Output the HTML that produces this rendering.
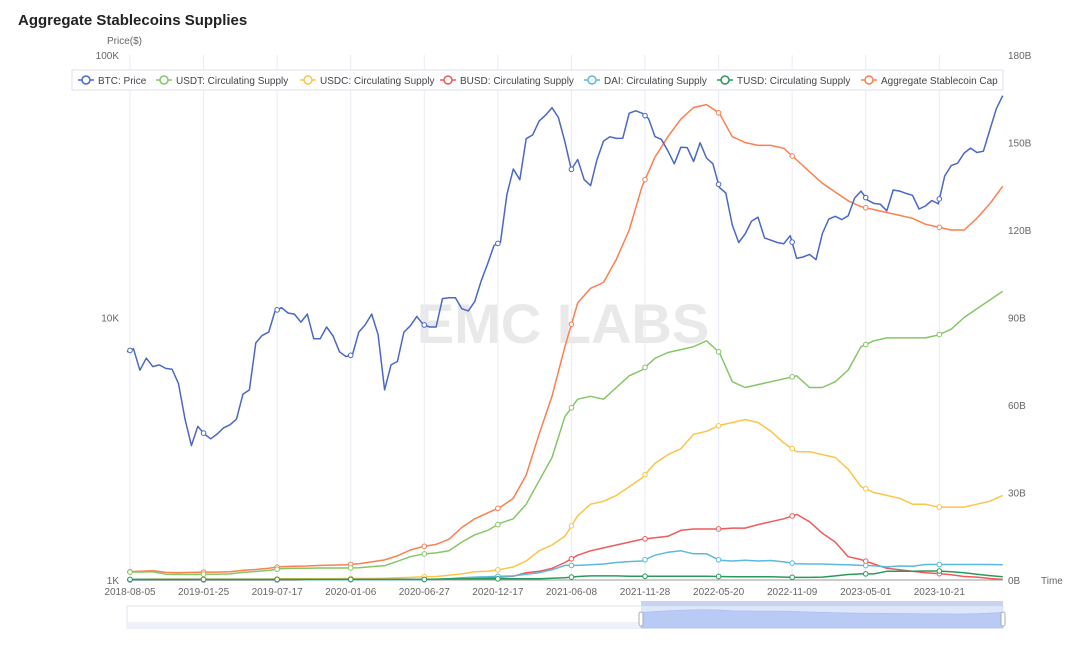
<!DOCTYPE html>
<html><head><meta charset="utf-8"><style>
html,body{margin:0;padding:0;background:#fff;width:1080px;height:645px;overflow:hidden;font-family:"Liberation Sans",sans-serif;}
</style></head><body>
<svg id="c" width="1080" height="645" xmlns="http://www.w3.org/2000/svg" font-family="Liberation Sans, sans-serif">
<text x="18" y="25" font-size="15" font-weight="bold" fill="#222">Aggregate Stablecoins Supplies</text>
<text x="107" y="44" font-size="10" fill="#666">Price($)</text>
<text x="563" y="343" font-size="56" font-weight="bold" fill="#e9e9e9" text-anchor="middle">EMC LABS</text>
<g id="grid"></g><g id="axes"></g><g id="series"></g>
<g id="legend"></g>
<g>
<rect x="127" y="606" width="876" height="22" fill="#fff" stroke="#dde3ee"/>
<rect x="127" y="622" width="514" height="6" fill="#eef2f8"/>
<rect x="641" y="601" width="362" height="27" fill="#d6e0f8" opacity="0.8"/>
<rect x="641" y="601" width="362" height="5" fill="#c8d3ef"/>
<path id="zoomline" fill="#b9cbf5" stroke="#a9bff2" stroke-width="0.7"/>
<rect x="639" y="612" width="4" height="14" rx="2" fill="#fff" stroke="#aab"/>
<rect x="1001" y="612" width="4" height="14" rx="2" fill="#fff" stroke="#aab"/>
</g>
</svg>
<script>
const dateLabels=["2018-08-05","2019-01-25","2019-07-17","2020-01-06","2020-06-27","2020-12-17","2021-06-08","2021-11-28","2022-05-20","2022-11-09","2023-05-01","2023-10-21"];
const priceTicks=["1K","10K","100K"];
const capTicks=["0B","30B","60B","90B","120B","150B","180B"];
const btc=[7400,7600,6300,7000,6500,6600,6400,6350,5600,4100,3250,
3850,3600,3450,3600,3800,3900,4100,5100,5300,8000,8550,8800,10600,10900,10400,10300,9600,10300,8300,8300,9200,8500,7400,7100,
7200,8800,9400,10300,8600,5300,6600,6800,8800,9300,10100,9400,9200,9200,11800,11900,11900,10800,10600,11500,13800,16000,18800,19400,
29400,36800,33500,48000,49600,56000,59000,63000,57800,46700,36600,40000,33500,31800,39900,47000,48800,48100,48200,60000,61300,60000,57200,48900,
47700,43100,38500,44500,44400,39300,46300,40500,38500,31300,29800,22500,19300,20800,23300,24100,20100,19700,19300,19100,20500,16800,17000,17400,
16600,20900,23700,24300,23600,24400,28500,30300,28000,27200,27000,25500,30600,30300,29700,29200,25900,26600,27900,27100,34600,37900,38700,42300,
44200,42500,43000,51800,62400,70000];
const usdt=[2.7,2.75,2.8,2.0,1.9,1.9, 2.0,2.0,2.1,2.6,2.9,3.3,3.9,4.0,4.0,4.1,4.1,4.1, 4.2,4.6,4.9,6.4,8.0,8.9,9.3,10.0,13.0,15.5,17.0,19.5, 21,26,34,42,56,62,63,62,66,70,72,76, 78,79,80,82,78,68,66,67,68,69,70,66, 66,68,72,80,82,83,83,83,83,84,86,90, 93,96,99];
const usdc=[0.1,0.2,0.3,0.3,0.3,0.3, 0.3,0.3,0.3,0.3,0.3,0.3,0.4,0.4,0.4,0.4,0.4,0.5, 0.5,0.5,0.6,0.8,0.9,1.1,1.2,1.6,2.1,2.8,3.0,3.6, 4.5,6.5,10,12,15,22,26,27,29,32,35,40, 43,45,50,51,53,54,55,54,51,47,44,44, 43,42,38,32,30,29,28,26,26,25,25,25, 26,27,29];
const busd=[0,0,0,0,0,0, 0,0,0,0,0,0,0,0,0.1,0.1,0.15,0.2, 0.2,0.2,0.2,0.2,0.2,0.2,0.2,0.3,0.4,0.7,0.9,1.0, 1.3,2.5,3.0,4.0,6.0,8.5,10,11,12,13,14,14.5, 15,17,17.5,17.5,17.5,17.8,17.8,19,20,21,22.5,20, 16,13,8,7,5.5,4,3.5,3,2.5,2.2,1.8,1.2, 1.0,0.5,0.2];
const dai=[0.05,0.05,0.06,0.06,0.07,0.07, 0.08,0.08,0.09,0.09,0.1,0.1,0.1,0.1,0.1,0.1,0.1,0.1, 0.1,0.1,0.1,0.1,0.1,0.1,0.2,0.4,0.8,1.0,1.1,1.3, 1.4,2.0,2.5,3.5,5.0,5.0,5.2,5.5,6,6.3,6.5,8.5, 9.5,10.0,9.0,9.0,6.8,6.5,6.8,6.5,6.7,6.2,5.6,5.5, 5.5,5.3,5.2,5.0,4.9,4.5,4.8,4.7,5.3,5.3,5.3,5.3, 5.3,5.3,5.2];
const tusd=[0.2,0.2,0.2,0.2,0.2,0.2, 0.2,0.2,0.2,0.2,0.2,0.2,0.2,0.2,0.2,0.2,0.2,0.2, 0.2,0.2,0.2,0.2,0.2,0.2,0.3,0.4,0.4,0.4,0.4,0.4, 0.4,0.4,0.4,0.6,0.8,1.2,1.4,1.4,1.4,1.3,1.3,1.3, 1.3,1.3,1.3,1.3,1.2,1.1,1.1,1.1,1.1,1.0,0.9,0.9, 1.0,1.4,1.9,2.1,2.1,3.0,3.0,3.0,3.1,3.1,2.8,2.5, 2.0,1.5,1.1];
const agg=[2.8,3.0,3.2,2.6,2.5,2.6, 2.7,2.7,2.8,3.3,3.6,4.0,4.6,4.7,4.8,5.0,5.1,5.2, 5.6,6.2,6.9,8.3,10.3,11.5,12.2,14,18,21,23,25, 28,36,50,63,80,95,100,102,110,120,135,145, 152,158,162,163,160,152,150,149,149,148,144,140, 136,133,130,128,127,126,125,124,122,121,120,120, 124,129,135];

const X0=130,PXD=74/174,START=-7,SPAN=2059,Y0=580,Y1=55;
const NS="http://www.w3.org/2000/svg";
function xDay(d){return X0+d*PXD;}
function xIdx(i,n){return xDay(START+SPAN*i/(n-1));}
function yPrice(p){return Y0-(Y0-Y1)*Math.log10(p/1000)/2;}
function yCap(v){return Y0-(Y0-Y1)*v/180;}
function mk(tag,attrs,parent){const e=document.createElementNS(NS,tag);for(const k in attrs)e.setAttribute(k,attrs[k]);parent.appendChild(e);return e;}
const grid=document.getElementById('grid'),axes=document.getElementById('axes'),ser=document.getElementById('series');
const base=new Date("2018-08-05").getTime();
const labelDays=dateLabels.map(s=>(new Date(s).getTime()-base)/864e5);
labelDays.forEach((d,i)=>{
 const l=mk('line',{x1:xDay(d),x2:xDay(d),y1:Y1,y2:Y0,stroke:'#e9ebf5','stroke-width':1},grid);
 
 
 const t=mk('text',{x:xDay(d),y:Y0+15,'font-size':10,fill:'#666','text-anchor':'middle'},axes);
 t.textContent=dateLabels[i];
 
 
});
const ax=mk('line',{x1:127,x2:1003,y1:Y0,y2:Y0,stroke:'#999','stroke-width':1},axes);


priceTicks.forEach((s,i)=>{
 const t=mk('text',{x:119,y:Y0-(Y0-Y1)*i/2+4,'font-size':10,fill:'#666','text-anchor':'end'},axes);
 t.textContent=s;
 
 
});
capTicks.forEach((s,i)=>{
 const t=mk('text',{x:1008,y:Y0-(Y0-Y1)*i/6+4,'font-size':10,fill:'#666'},axes);
 t.textContent=s;
 
 
});
const tt=mk('text',{x:1041,y:Y0+4,'font-size':10,fill:'#666'},axes);tt.textContent='Time';



function draw(arr,yf,color,name){
 const n=arr.length;
 const pts=arr.map((v,i)=>xIdx(i,n).toFixed(1)+','+yf(v).toFixed(1));
 const p=mk('polyline',{points:pts.join(' '),fill:'none',stroke:color,'stroke-width':1.5,'stroke-linejoin':'round'},ser);
 
 
 labelDays.forEach(d=>{
  const f=(d-START)/SPAN*(n-1);if(f<0||f>n-1)return;
  const i=Math.floor(f),r=f-i,v=i+1<n?arr[i]*(1-r)+arr[i+1]*r:arr[i];
  const c=mk('circle',{cx:xDay(d),cy:yf(v),r:2.3,fill:'#fff',stroke:color,'stroke-width':1},ser);
  
  
 });
}
draw(agg,yCap,'#fb7f4f','aggregate-cap');
draw(usdt,yCap,'#86c667','usdt');
draw(usdc,yCap,'#fbc44a','usdc');
draw(busd,yCap,'#ef5b5b','busd');
draw(dai,yCap,'#5bb9dc','dai');
draw(tusd,yCap,'#2a9a5c','tusd');
draw(btc,yPrice,'#4a67c8','btc-price');

(function(){const n=agg.length;let d='M641,628';agg.forEach((v,i)=>{const x=127+876*i/(n-1);if(x>=641)d+=' L'+x.toFixed(1)+','+(626-v/180*18).toFixed(1);});d+=' L1003,628 Z';document.getElementById('zoomline').setAttribute('d',d);})();

const items=[["BTC: Price","#4a67c8"],["USDT: Circulating Supply","#86c667"],["USDC: Circulating Supply","#fbc44a"],["BUSD: Circulating Supply","#ef5b5b"],["DAI: Circulating Supply","#5bb9dc"],["TUSD: Circulating Supply","#2a9a5c"],["Aggregate Stablecoin Cap","#fb7f4f"]];
const lg=document.getElementById('legend');
mk('rect',{x:72,y:70,width:931,height:20,fill:'#fff',stroke:'#dfe2ec'},lg);
const lx=[78,156,300,440,584,717,861];
items.forEach((it,i)=>{
 const g=mk('g',{},lg);
 
 
 mk('line',{x1:lx[i],x2:lx[i]+16,y1:80,y2:80,stroke:it[1],'stroke-width':1.5},g);
 mk('circle',{cx:lx[i]+8,cy:80,r:4,fill:'#fff',stroke:it[1],'stroke-width':1.5},g);
 const t=mk('text',{x:lx[i]+20,y:84,'font-size':10,fill:'#444'},g);t.textContent=it[0];
});
</script>
</body></html>
